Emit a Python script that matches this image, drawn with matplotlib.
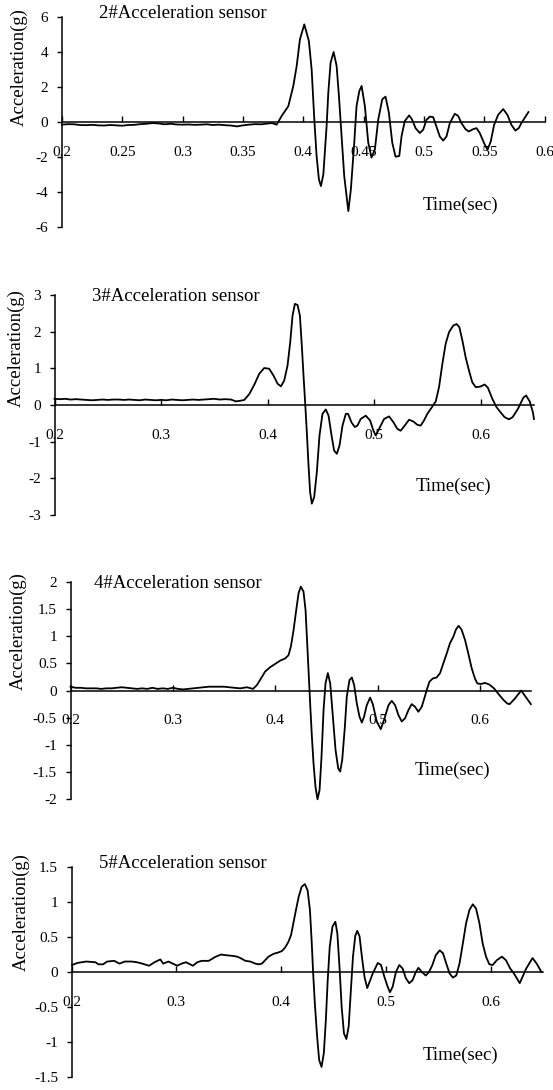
import matplotlib
matplotlib.use('Agg')
import matplotlib.pyplot as plt
from matplotlib.ticker import FuncFormatter, MultipleLocator

plt.rcParams['font.family'] = ['Liberation Serif', 'DejaVu Serif']

# sensor 2
t2 = [0.200, 0.205, 0.210, 0.215, 0.220, 0.225, 0.230, 0.235, 0.240, 0.245,
      0.250, 0.255, 0.260, 0.265, 0.270, 0.275, 0.280, 0.285, 0.290, 0.295,
      0.300, 0.305, 0.310, 0.315, 0.320, 0.325, 0.330, 0.335, 0.340, 0.345,
      0.350, 0.355, 0.360, 0.365, 0.370, 0.374, 0.3779,
      0.3820, 0.3876, 0.3917, 0.3945, 0.3972, 0.4008, 0.4046, 0.4069, 0.4091,
      0.4110, 0.4129, 0.4146, 0.4166, 0.4193, 0.4207, 0.4226, 0.4251, 0.4276,
      0.4295, 0.4317, 0.4339, 0.4373, 0.4394, 0.4422, 0.4441, 0.4464, 0.4483,
      0.4510, 0.4538, 0.4565, 0.4593, 0.4621, 0.4654, 0.4681, 0.4709, 0.4737,
      0.4764, 0.4795, 0.4814, 0.4841, 0.4877, 0.4902, 0.4930, 0.4965, 0.4993,
      0.5021, 0.5048, 0.5076, 0.5103, 0.5131, 0.5159, 0.5186, 0.5214, 0.5255,
      0.5283, 0.5310, 0.5344, 0.5371, 0.5407, 0.5435, 0.5462, 0.5498, 0.5526,
      0.5553, 0.5581, 0.5614, 0.5656, 0.5691, 0.5724, 0.5757, 0.5785, 0.5807,
      0.5865]
a2 = [-0.15, -0.12, -0.13, -0.17, -0.18, -0.16, -0.19, -0.20, -0.17, -0.19,
      -0.21, -0.17, -0.16, -0.12, -0.10, -0.06, -0.08, -0.13, -0.10, -0.14,
      -0.15, -0.14, -0.16, -0.15, -0.13, -0.17, -0.15, -0.18, -0.20, -0.25,
      -0.19, -0.15, -0.12, -0.13, -0.09, -0.06, -0.15,
      0.34, 0.91, 2.06, 3.20, 4.73, 5.58, 4.63, 3.00, 0.15,
      -1.94, -3.27, -3.66, -2.99, -0.23, 1.68, 3.39, 4.00, 3.20,
      1.49, -0.80, -3.09, -5.09, -3.85, -1.18, 0.91, 1.77, 2.06,
      0.91, -1.18, -2.03, -1.56, 0.15, 1.30, 1.45, 0.53, -1.18,
      -1.98, -1.94, -0.80, 0.06, 0.38, 0.13, -0.35, -0.63, -0.44,
      0.13, 0.31, 0.28, -0.26, -0.83, -1.06, -0.83, -0.06, 0.47,
      0.35, -0.06, -0.41, -0.54, -0.41, -0.35, -0.63, -1.21, -1.59,
      -1.11, -0.16, 0.41, 0.74, 0.41, -0.16, -0.49, -0.35, -0.06,
      0.57]

# sensor 3
t3 = [0.200, 0.205, 0.210, 0.215, 0.220, 0.225, 0.230, 0.235, 0.240, 0.245,
      0.250, 0.255, 0.260, 0.265, 0.270, 0.275, 0.280, 0.285, 0.290, 0.295,
      0.300, 0.305, 0.310, 0.315, 0.320, 0.325, 0.330, 0.335, 0.340, 0.345,
      0.350, 0.355, 0.360, 0.3656, 0.3703, 0.3750, 0.3781,
      0.3828, 0.3874, 0.3921, 0.3968, 0.4015, 0.4056, 0.4094, 0.4125, 0.4156,
      0.4187, 0.4212, 0.4234, 0.4256, 0.4281, 0.4303, 0.4321, 0.4337, 0.4352,
      0.4368, 0.4384, 0.4399, 0.4415, 0.4437, 0.4462, 0.4487, 0.4515, 0.4546,
      0.4572, 0.4600, 0.4624, 0.4650, 0.4675, 0.4703, 0.4734, 0.4755, 0.4787,
      0.4818, 0.4843, 0.4874, 0.4921, 0.4962, 0.4993, 0.5015, 0.5046, 0.5093,
      0.5140, 0.5181, 0.5218, 0.5249, 0.5287, 0.5328, 0.5368, 0.5406, 0.5437,
      0.5468, 0.5499, 0.5537, 0.5578, 0.5609, 0.5640, 0.5671, 0.5703, 0.5743,
      0.5774, 0.5800, 0.5828, 0.5859, 0.5890, 0.5921, 0.5953, 0.5993, 0.6037,
      0.6068, 0.6109, 0.6149, 0.6187, 0.6224, 0.6265, 0.6300, 0.6350, 0.6400,
      0.6426, 0.6460, 0.6490, 0.6500]
a3 = [0.17, 0.16, 0.17, 0.15, 0.16, 0.15, 0.14, 0.13, 0.14, 0.15,
      0.14, 0.15, 0.15, 0.14, 0.15, 0.14, 0.13, 0.15, 0.14, 0.13,
      0.14, 0.13, 0.15, 0.14, 0.13, 0.14, 0.15, 0.14, 0.15, 0.16,
      0.17, 0.15, 0.16, 0.15, 0.10, 0.12, 0.14,
      0.30, 0.55, 0.85, 1.01, 0.99, 0.80, 0.58, 0.51, 0.67,
      1.08, 1.71, 2.44, 2.76, 2.73, 2.44, 1.62, 0.80, 0.08,
      -0.74, -1.65, -2.38, -2.69, -2.51, -1.83, -0.83, -0.24, -0.12,
      -0.29, -0.83, -1.24, -1.33, -1.10, -0.56, -0.24, -0.24, -0.47,
      -0.60, -0.56, -0.38, -0.29, -0.42, -0.70, -0.83, -0.65, -0.38,
      -0.31, -0.47, -0.65, -0.70, -0.56, -0.40, -0.45, -0.54, -0.56,
      -0.42, -0.24, -0.08, 0.10, 0.49, 1.12, 1.67, 1.99, 2.17,
      2.21, 2.12, 1.76, 1.30, 0.94, 0.62, 0.49, 0.50, 0.56,
      0.47, 0.17, -0.06, -0.20, -0.33, -0.39, -0.33, -0.10, 0.20,
      0.26, 0.10, -0.20, -0.38]

# sensor 4
t4 = [0.200, 0.205, 0.210, 0.215, 0.220, 0.225, 0.230, 0.235, 0.240, 0.245,
      0.250, 0.255, 0.260, 0.265, 0.270, 0.275, 0.280, 0.285, 0.290, 0.295,
      0.300, 0.305, 0.310, 0.315, 0.320, 0.325, 0.330, 0.335, 0.340, 0.345,
      0.350, 0.355, 0.360, 0.3659, 0.3724, 0.3783,
      0.3821, 0.3860, 0.3902, 0.3951, 0.4000, 0.4049, 0.4098, 0.4130, 0.4153,
      0.4179, 0.4205, 0.4228, 0.4250, 0.4276, 0.4296, 0.4309, 0.4325, 0.4341,
      0.4358, 0.4374, 0.4393, 0.4413, 0.4433, 0.4452, 0.4472, 0.4491, 0.4514,
      0.4537, 0.4563, 0.4589, 0.4615, 0.4634, 0.4654, 0.4680, 0.4699, 0.4725,
      0.4748, 0.4771, 0.4797, 0.4823, 0.4846, 0.4868, 0.4894, 0.4927, 0.4953,
      0.4992, 0.5031, 0.5063, 0.5106, 0.5138, 0.5171, 0.5203, 0.5236, 0.5268,
      0.5301, 0.5333, 0.5366, 0.5398, 0.5431, 0.5457, 0.5480, 0.5506, 0.5538,
      0.5577, 0.5610, 0.5642, 0.5675, 0.5707, 0.5740, 0.5765, 0.5791, 0.5820,
      0.5854, 0.5886, 0.5919, 0.5951, 0.5974, 0.6010, 0.6049, 0.6091, 0.6137,
      0.6179, 0.6228, 0.6267, 0.6290, 0.6340, 0.6403, 0.6440, 0.6497]
a4 = [0.07, 0.05, 0.05, 0.04, 0.04, 0.04, 0.03, 0.04, 0.04, 0.05,
      0.06, 0.05, 0.04, 0.03, 0.04, 0.03, 0.05, 0.03, 0.04, 0.03,
      0.05, 0.03, 0.02, 0.03, 0.04, 0.05, 0.06, 0.07, 0.07, 0.07,
      0.07, 0.06, 0.05, 0.04, 0.06, 0.03,
      0.10, 0.22, 0.35, 0.43, 0.49, 0.55, 0.59, 0.65, 0.81,
      1.11, 1.48, 1.79, 1.91, 1.82, 1.48, 0.99, 0.38, -0.24,
      -0.85, -1.34, -1.77, -2.00, -1.83, -1.22, -0.36, 0.13, 0.32,
      0.13, -0.48, -1.09, -1.43, -1.49, -1.28, -0.67, -0.11, 0.19,
      0.24, 0.10, -0.24, -0.48, -0.59, -0.48, -0.27, -0.13, -0.25,
      -0.57, -0.71, -0.54, -0.27, -0.19, -0.27, -0.45, -0.57, -0.51,
      -0.36, -0.25, -0.30, -0.39, -0.30, -0.14, 0.01, 0.16, 0.22,
      0.24, 0.32, 0.50, 0.68, 0.87, 0.99, 1.12, 1.19, 1.12,
      0.93, 0.68, 0.41, 0.22, 0.13, 0.12, 0.14, 0.11, 0.04,
      -0.06, -0.17, -0.24, -0.25, -0.15, 0.00, -0.10, -0.25]

# sensor 5
t5 = [0.2005, 0.2055, 0.2139, 0.2228, 0.2256, 0.2300, 0.2339, 0.2407, 0.2457,
      0.2507, 0.2573, 0.2623, 0.2674, 0.2740, 0.2791, 0.2847, 0.2874, 0.2924,
      0.3008, 0.3050, 0.3092, 0.3158, 0.3200, 0.3242, 0.3309, 0.3376, 0.3427,
      0.3477, 0.3544, 0.3580,
      0.3611, 0.3659, 0.3706, 0.3754, 0.3785, 0.3817, 0.3848, 0.3880, 0.3927,
      0.3974, 0.4007, 0.4038, 0.4069, 0.4095, 0.4117, 0.4142, 0.4168, 0.4196,
      0.4227, 0.4253, 0.4275, 0.4291, 0.4306, 0.4322, 0.4344, 0.4363, 0.4386,
      0.4408, 0.4427, 0.4445, 0.4464, 0.4490, 0.4518, 0.4537, 0.4559, 0.4578,
      0.4600, 0.4623, 0.4645, 0.4664, 0.4686, 0.4708, 0.4727, 0.4749, 0.4771,
      0.4796, 0.4822, 0.4850, 0.4875, 0.4923, 0.4954, 0.4986, 0.5017, 0.5039,
      0.5065, 0.5096, 0.5128, 0.5160, 0.5191, 0.5223, 0.5254, 0.5286, 0.5311,
      0.5343, 0.5381, 0.5412, 0.5444, 0.5476, 0.5514, 0.5545, 0.5577, 0.5608,
      0.5640, 0.5672, 0.5703, 0.5735, 0.5766, 0.5798, 0.5830, 0.5861, 0.5893,
      0.5924, 0.5956, 0.5988, 0.6019, 0.6060, 0.6108, 0.6146, 0.6187, 0.6218,
      0.6278, 0.6340, 0.6400, 0.6440, 0.6485]
a5 = [0.10, 0.13, 0.15, 0.14, 0.11, 0.11, 0.15, 0.16, 0.12,
      0.15, 0.15, 0.14, 0.12, 0.09, 0.14, 0.18, 0.12, 0.15,
      0.09, 0.12, 0.14, 0.09, 0.14, 0.16, 0.16, 0.22, 0.25,
      0.24, 0.23, 0.22,
      0.20, 0.16, 0.15, 0.12, 0.11, 0.12, 0.17, 0.22, 0.26,
      0.28, 0.30, 0.35, 0.43, 0.53, 0.70, 0.89, 1.08, 1.22,
      1.26, 1.17, 0.89, 0.46, -0.02, -0.45, -0.93, -1.26, -1.36,
      -1.16, -0.69, -0.11, 0.36, 0.65, 0.72, 0.55, 0.03, -0.50,
      -0.88, -0.96, -0.78, -0.31, 0.22, 0.52, 0.59, 0.51, 0.22,
      -0.07, -0.23, -0.12, -0.02, 0.13, 0.10, -0.07, -0.21, -0.29,
      -0.21, 0.00, 0.10, 0.05, -0.09, -0.16, -0.12, 0.00, 0.06,
      0.00, -0.05, 0.00, 0.10, 0.24, 0.31, 0.27, 0.12, -0.02,
      -0.08, -0.05, 0.12, 0.41, 0.70, 0.89, 0.97, 0.91, 0.70,
      0.41, 0.22, 0.11, 0.10, 0.17, 0.22, 0.17, 0.05, -0.01,
      -0.16, 0.05, 0.20, 0.12, 0.00]

sensor_names = ['2#Acceleration sensor', '3#Acceleration sensor',
                '4#Acceleration sensor', '5#Acceleration sensor']
times = [t2, t3, t4, t5]
accels = [a2, a3, a4, a5]
xlims = [(0.2, 0.6), (0.2, 0.65), (0.2, 0.65), (0.2, 0.65)]
xsteps = [0.05, 0.1, 0.1, 0.1]
ylims = [(-6, 6), (-3, 3), (-2, 2), (-1.5, 1.5)]
ysteps = [2, 1, 0.5, 0.5]

# layout, pixels -> figure fractions
rects = [[0.112, 0.7917, 0.873, 0.1927],
         [0.0986, 0.5275, 0.867, 0.2018],
         [0.1275, 0.2667, 0.833, 0.1996],
         [0.1295, 0.0122, 0.8524, 0.1921]]
ylab_pos = [(-0.088, 0.762), (-0.080, 0.759), (-0.113, 0.773), (-0.107, 0.787)]
title_pos = [(0.077, 1.019), (0.078, 0.995), (0.050, 0.994), (0.058, 1.020)]
xlab_pos = [(0.747, 0.105), (0.754, 0.132), (0.746, 0.135), (0.745, 0.104)]

fmt = FuncFormatter(lambda v, p: '%g' % round(v, 4))

fig = plt.figure(figsize=(5.53, 10.9), dpi=100)
for i in range(4):
    ax = fig.add_axes(rects[i])
    ax.plot(times[i], accels[i], color='black', lw=1.3, clip_on=False,
            solid_joinstyle='round')
    ax.set_xlim(*xlims[i])
    ax.set_ylim(*ylims[i])
    ax.xaxis.set_major_locator(MultipleLocator(xsteps[i]))
    ax.yaxis.set_major_locator(MultipleLocator(ysteps[i]))
    ax.xaxis.set_major_formatter(fmt)
    ax.yaxis.set_major_formatter(fmt)
    ax.spines['top'].set_visible(False)
    ax.spines['right'].set_visible(False)
    ax.spines['bottom'].set_position(('data', 0))
    ax.spines['bottom'].set_linewidth(1.1)
    ax.spines['left'].set_linewidth(1.1)
    ax.tick_params(axis='x', direction='in', length=4.3, width=1, pad=17,
                   labelsize=11)
    ax.tick_params(axis='y', direction='out', length=3.8, width=1, pad=6,
                   labelsize=11)
    ax.patch.set_alpha(0)
    ax.text(ylab_pos[i][0], ylab_pos[i][1], 'Acceleration(g)', rotation=90,
            ha='center', va='center', fontsize=13.5, transform=ax.transAxes)
    ax.text(title_pos[i][0], title_pos[i][1], sensor_names[i],
            ha='left', va='center', fontsize=13.5, transform=ax.transAxes)
    ax.text(xlab_pos[i][0], xlab_pos[i][1], 'Time(sec)',
            ha='left', va='center', fontsize=13.5, transform=ax.transAxes)

plt.savefig('out.png', dpi=100)
